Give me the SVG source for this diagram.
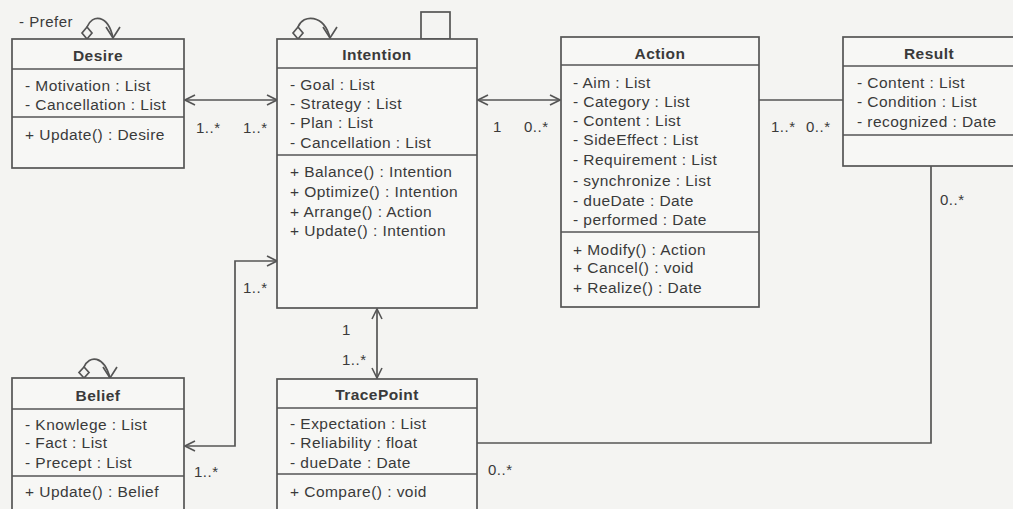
<svg xmlns="http://www.w3.org/2000/svg" width="1013" height="509" viewBox="0 0 1013 509">
<style>
.box{fill:#f7f7f5;stroke:#555;stroke-width:1.7}
.div{stroke:#555;stroke-width:1.4}
.t{font-family:"Liberation Sans",Arial,sans-serif;font-size:15.5px;letter-spacing:0.45px;fill:#3a3a3a}
.h{font-family:"Liberation Sans",Arial,sans-serif;font-size:15.5px;letter-spacing:0.45px;font-weight:bold;fill:#3a3a3a;text-anchor:middle}
.c{fill:none;stroke:#555;stroke-width:1.7}
.m{font-family:"Liberation Sans",Arial,sans-serif;font-size:15px;letter-spacing:0.5px;fill:#3a3a3a}
</style>
<defs>
<marker id="arr" viewBox="0 0 12 12" refX="11" refY="6" markerWidth="12" markerHeight="12" markerUnits="userSpaceOnUse" orient="auto-start-reverse">
<path d="M1,1 L11,6 L1,11" fill="none" stroke="#555" stroke-width="1.6"/>
</marker>
</defs>
<rect width="1013" height="509" fill="#f4f4f2"/>

<g id="connectors">
<line class="c" x1="185" y1="100" x2="277" y2="100" marker-start="url(#arr)" marker-end="url(#arr)"/>
<line class="c" x1="478" y1="100" x2="560" y2="100" marker-start="url(#arr)" marker-end="url(#arr)"/>
<line class="c" x1="759" y1="100" x2="843" y2="100"/>
<line class="c" x1="377" y1="309" x2="377" y2="378" marker-start="url(#arr)" marker-end="url(#arr)"/>
<polyline class="c" points="185,446 235,446 235,261 277,261" marker-start="url(#arr)" marker-end="url(#arr)"/>
<polyline class="c" points="477,443 931,443 931,166"/>
<!-- self loops -->
<path class="c" d="M87,27 C92,14 108,14 113,38"/>
<path class="c" d="M87,39 L82,33 L87,27 L92,33 Z"/>
<path class="c" d="M106,27 L113,38 L120,27"/>
<path class="c" d="M298,27 C303,14 324,14 330,38"/>
<path class="c" d="M298,39 L293,33 L298,27 L303,33 Z"/>
<path class="c" d="M323,27 L330,38 L337,27"/>
<path class="c" d="M84,367 C89,355 104,355 110,378"/>
<path class="c" d="M84,378 L79,372.5 L84,367 L89,372.5 Z"/>
<path class="c" d="M103,367 L110,378 L117,367"/>
<rect class="c" x="421" y="12" width="29" height="27"/>
<text class="m" x="19" y="27">- Prefer</text>
<text class="m" x="196" y="133">1..*</text>
<text class="m" x="243" y="133">1..*</text>
<text class="m" x="493" y="132">1</text>
<text class="m" x="524" y="132">0..*</text>
<text class="m" x="771" y="132">1..*</text>
<text class="m" x="806" y="132">0..*</text>
<text class="m" x="940" y="205">0..*</text>
<text class="m" x="243" y="293">1..*</text>
<text class="m" x="342" y="335">1</text>
<text class="m" x="342" y="365">1..*</text>
<text class="m" x="194" y="477">1..*</text>
<text class="m" x="488" y="475">0..*</text>
</g>

<g id="desire">
<rect class="box" x="12" y="39" width="172" height="129"/>
<line class="div" x1="12" y1="69" x2="184" y2="69"/>
<line class="div" x1="12" y1="117" x2="184" y2="117"/>
<text class="h" x="98" y="61">Desire</text>
<text class="t" x="25" y="91">- Motivation : List</text>
<text class="t" x="25" y="110">- Cancellation : List</text>
<text class="t" x="25" y="140">+ Update() : Desire</text>
</g>

<g id="intention">
<rect class="box" x="277" y="39" width="200" height="269"/>
<line class="div" x1="277" y1="68" x2="477" y2="68"/>
<line class="div" x1="277" y1="155" x2="477" y2="155"/>
<text class="h" x="377" y="60">Intention</text>
<text class="t" x="290" y="90">- Goal : List</text>
<text class="t" x="290" y="109">- Strategy : List</text>
<text class="t" x="290" y="128">- Plan : List</text>
<text class="t" x="290" y="148">- Cancellation : List</text>
<text class="t" x="290" y="177">+ Balance() : Intention</text>
<text class="t" x="290" y="197">+ Optimize() : Intention</text>
<text class="t" x="290" y="217">+ Arrange() : Action</text>
<text class="t" x="290" y="236">+ Update() : Intention</text>
</g>

<g id="action">
<rect class="box" x="561" y="37" width="198" height="270"/>
<line class="div" x1="561" y1="65" x2="759" y2="65"/>
<line class="div" x1="561" y1="232" x2="759" y2="232"/>
<text class="h" x="660" y="59">Action</text>
<text class="t" x="573" y="88">- Aim : List</text>
<text class="t" x="573" y="107">- Category : List</text>
<text class="t" x="573" y="126">- Content : List</text>
<text class="t" x="573" y="145">- SideEffect : List</text>
<text class="t" x="573" y="165">- Requirement : List</text>
<text class="t" x="573" y="186">- synchronize : List</text>
<text class="t" x="573" y="206">- dueDate : Date</text>
<text class="t" x="573" y="225">- performed : Date</text>
<text class="t" x="573" y="255">+ Modify() : Action</text>
<text class="t" x="573" y="273">+ Cancel() : void</text>
<text class="t" x="573" y="293">+ Realize() : Date</text>
</g>

<g id="result">
<rect class="box" x="843" y="37" width="175" height="129"/>
<line class="div" x1="843" y1="66" x2="1013" y2="66"/>
<line class="div" x1="843" y1="135" x2="1013" y2="135"/>
<text class="h" x="929" y="59">Result</text>
<text class="t" x="857" y="88">- Content : List</text>
<text class="t" x="857" y="107">- Condition : List</text>
<text class="t" x="857" y="127">- recognized : Date</text>
</g>

<g id="belief">
<rect class="box" x="12" y="378" width="172" height="150"/>
<line class="div" x1="12" y1="409" x2="184" y2="409"/>
<line class="div" x1="12" y1="476" x2="184" y2="476"/>
<text class="h" x="98" y="401">Belief</text>
<text class="t" x="25" y="430">- Knowlege : List</text>
<text class="t" x="25" y="448">- Fact : List</text>
<text class="t" x="25" y="468">- Precept : List</text>
<text class="t" x="25" y="497">+ Update() : Belief</text>
</g>

<g id="tracepoint">
<rect class="box" x="277" y="379" width="200" height="150"/>
<line class="div" x1="277" y1="408" x2="477" y2="408"/>
<line class="div" x1="277" y1="474" x2="477" y2="474"/>
<text class="h" x="377" y="400">TracePoint</text>
<text class="t" x="290" y="429">- Expectation : List</text>
<text class="t" x="290" y="448">- Reliability : float</text>
<text class="t" x="290" y="468">- dueDate : Date</text>
<text class="t" x="290" y="497">+ Compare() : void</text>
</g>
</svg>
